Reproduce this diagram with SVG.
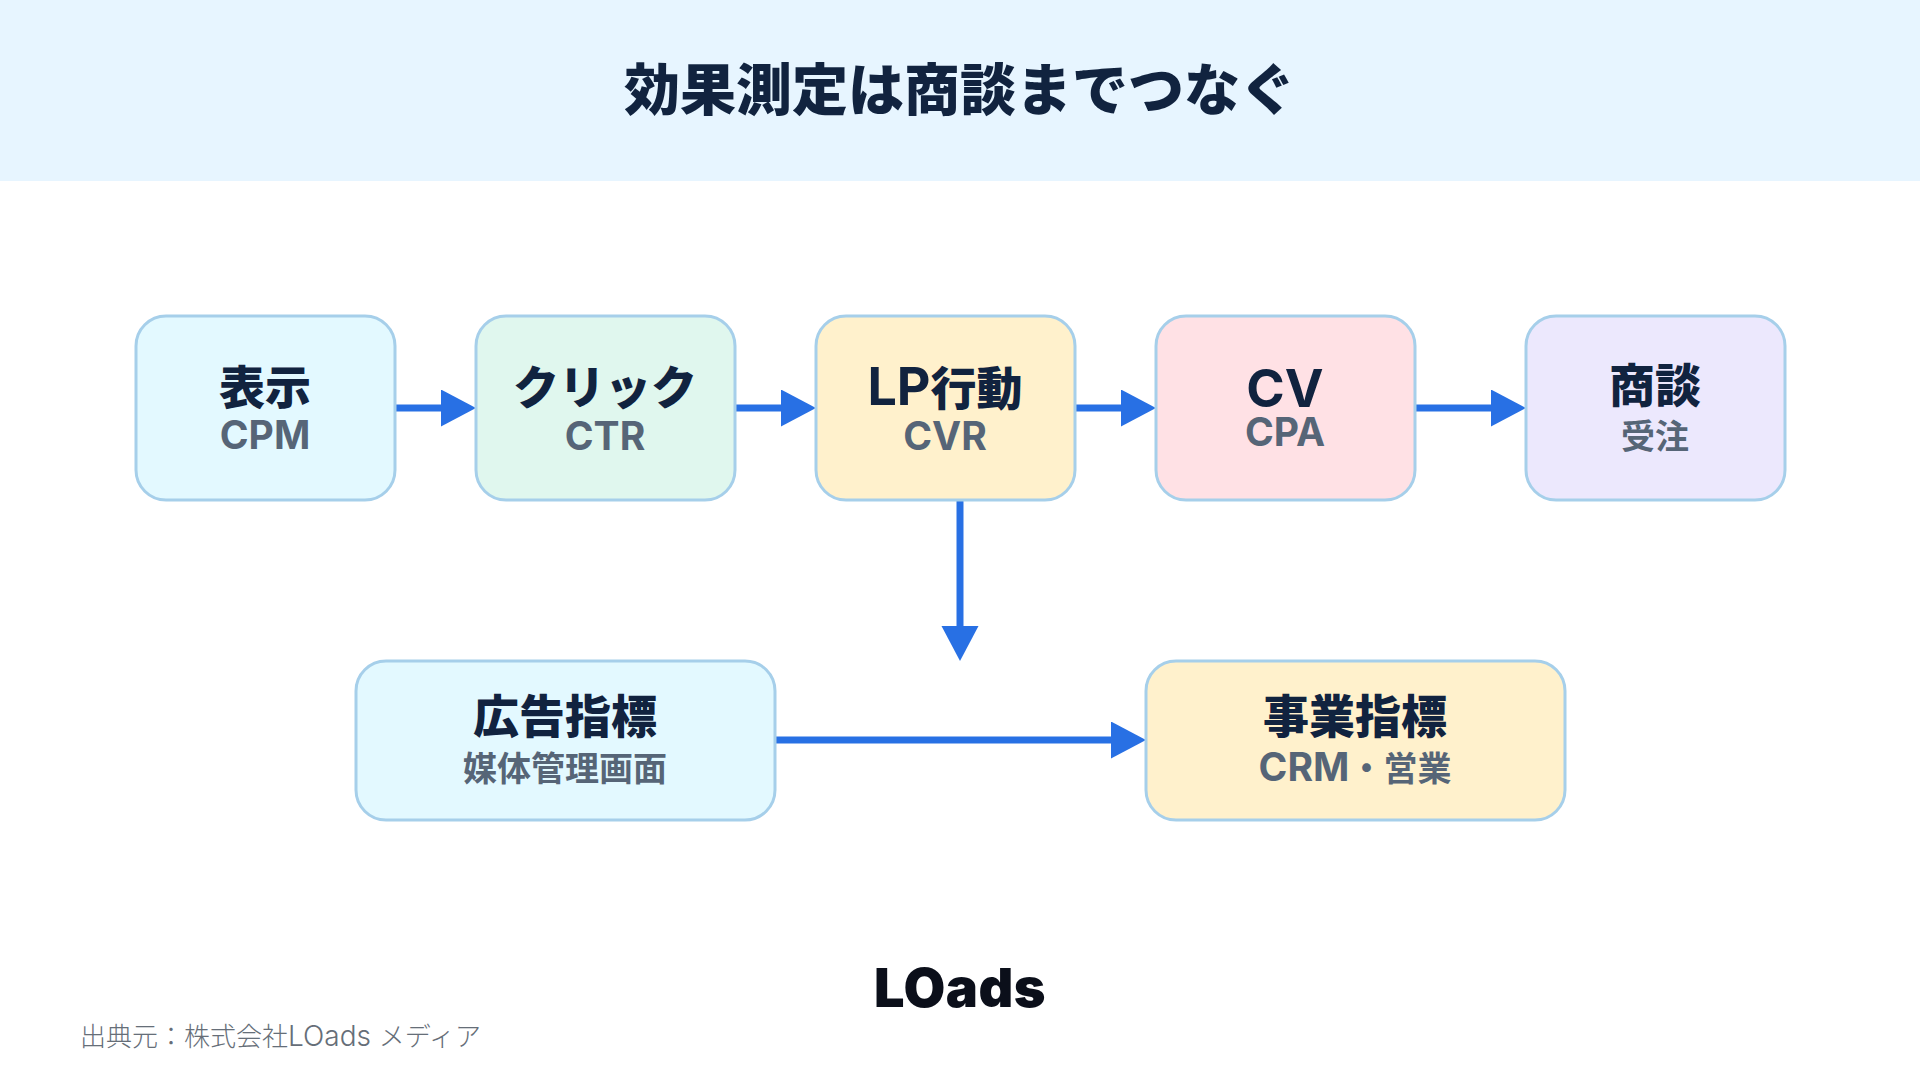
<svg xmlns="http://www.w3.org/2000/svg" width="1920" height="1080" viewBox="0 0 1920 1080">
<style>
text{text-anchor:middle;font-family:Inter,"Noto Sans CJK JP","Noto Sans",sans-serif}
.box{stroke:#A6CFEA;stroke-width:3}
.t{font-size:46px;font-weight:900;fill:#11233F}
.s{font-size:34px;font-weight:700;fill:#566577}
.lt{font-size:52px;font-weight:700}
.ls{font-size:39px;font-weight:700}
.c{fill:none;stroke:#2870E4;stroke-width:7}
</style>
<defs>
<marker id="ah" markerUnits="userSpaceOnUse" markerWidth="36" markerHeight="38" refX="1" refY="18.5" orient="auto"><path d="M0 0L35 18.5L0 37Z" fill="#2870E4"/></marker>
<linearGradient id="lf" x1="0" y1="0" x2="1" y2="0"><stop offset="0.55" stop-color="#0B0F1A"/><stop offset="1" stop-color="#0B0F1A" stop-opacity="0.3"/></linearGradient>
</defs>
<rect id="header" width="1920" height="181" fill="#E7F5FF"/>
<text id="title" x="960" y="110" font-size="56" font-weight="900" fill="#11233F">効果測定は商談までつなぐ</text>
<g id="connectors">
<path class="c" marker-end="url(#ah)" d="M395 408H442"/>
<path class="c" marker-end="url(#ah)" d="M735 408H782"/>
<path class="c" marker-end="url(#ah)" d="M1075 408H1122"/>
<path class="c" marker-end="url(#ah)" d="M1415 408H1492"/>
<path class="c" marker-end="url(#ah)" d="M960 500V627"/>
<path class="c" marker-end="url(#ah)" d="M775 740H1112"/>
</g>
<g id="n1"><rect class="box" x="136" y="316" width="259" height="184" rx="30" fill="#E3F9FF"/><text class="t" x="265" y="404">表示</text><text class="s ls" x="265" y="449">CPM</text></g>
<g id="n2"><rect class="box" x="476" y="316" width="259" height="184" rx="30" fill="#E0F7EE"/><text class="t" x="605" y="404">クリック</text><text class="s ls" x="605" y="450">CTR</text></g>
<g id="n3"><rect class="box" x="816" y="316" width="259" height="184" rx="30" fill="#FFF1CC"/><text class="t" x="945" y="405"><tspan class="lt">LP</tspan>行動</text><text class="s ls" x="945" y="450">CVR</text></g>
<g id="n4"><rect class="box" x="1156" y="316" width="259" height="184" rx="30" fill="#FFE1E5"/><text class="t lt" x="1285" y="407">CV</text><text class="s ls" x="1285" y="446">CPA</text></g>
<g id="n5"><rect class="box" x="1526" y="316" width="259" height="184" rx="30" fill="#ECE8FD"/><text class="t" x="1655" y="402">商談</text><text class="s" x="1655" y="449">受注</text></g>
<g id="n6"><rect class="box" x="356" y="661" width="419" height="159" rx="30" fill="#E3F9FF"/><text class="t" x="565" y="733">広告指標</text><text class="s" x="565" y="781">媒体管理画面</text></g>
<g id="n7"><rect class="box" x="1146" y="661" width="419" height="159" rx="30" fill="#FFF1CC"/><text class="t" x="1355" y="733">事業指標</text><text class="s" x="1355" y="781"><tspan class="ls">CRM</tspan>・営業</text></g>
<g id="logo"><text x="960" y="1007" font-size="54" font-weight="900" letter-spacing="0.5" fill="#0B0F1A"><tspan fill="url(#lf)">L</tspan>Oads</text></g>
<text id="source" x="80" y="1046" font-size="26" font-weight="300" fill="#666E78" style="text-anchor:start">出典元：株式会社<tspan font-size="28">LOads </tspan>メディア</text>
</svg>
